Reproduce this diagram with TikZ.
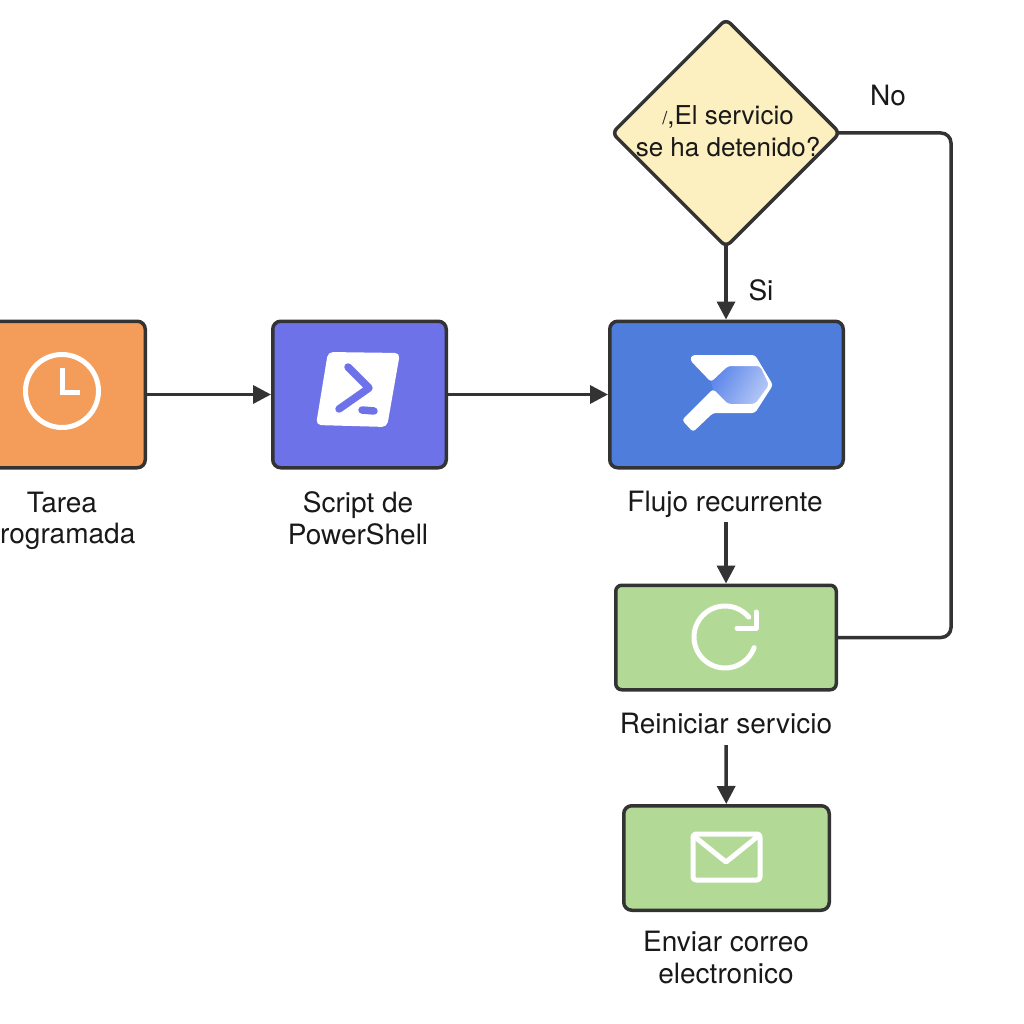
\documentclass[tikz,border=0pt]{standalone}
\usepackage{fontspec}
\setmainfont{TeX Gyre Heros}
\usepackage{tikz}
\usetikzlibrary{arrows.meta}
\usetikzlibrary{shapes.geometric}
\definecolor{linegray}{HTML}{333333}
\definecolor{taskorange}{HTML}{F49C5A}
\definecolor{scriptviolet}{HTML}{6E72E8}
\definecolor{flowblue}{HTML}{4E7DDC}
\definecolor{actiongreen}{HTML}{B2D996}
\definecolor{questionyellow}{HTML}{FCEFC0}
\definecolor{facedark}{HTML}{5F88EA}
\definecolor{facelight}{HTML}{B4C7F6}
\tikzset{
  box/.style={draw=linegray, line width=3.5pt, rounded corners=8pt, inner sep=0pt},
  question/.style={draw=linegray, line width=3.5pt, fill=questionyellow, diamond, aspect=1, rounded corners=6pt, minimum size=229pt, inner sep=0pt},
  lbl/.style={font=\fontsize{28}{32}\selectfont, align=center, text=black!90, inner sep=0pt},
  conn/.style={color=linegray, line width=3.5pt, -{Stealth[length=18pt,width=18pt,inset=0pt]}},
  icon/.style={draw=white, line width=5pt, line cap=round, line join=round}
}
\begin{document}
\begin{tikzpicture}[x=1pt,y=-1pt]
    \useasboundingbox (0,0) rectangle (1024,1024);
    % boxes
    \node[box, fill=taskorange, minimum width=166.5pt, minimum height=146.5pt] (tarea) at (62,394.5) {};
    \node[box, fill=scriptviolet, minimum width=173.5pt, minimum height=146.5pt] (script) at (359.5,394.5) {};
    \node[box, fill=flowblue, minimum width=233.5pt, minimum height=146.5pt] (flujo) at (726.5,394.5) {};
    \node[box, fill=actiongreen, minimum width=220.5pt, minimum height=104.5pt, rounded corners=6pt] (reiniciar) at (726,637.5) {};
    \node[box, fill=actiongreen, minimum width=205.5pt, minimum height=104.5pt] (enviar) at (726.5,858) {};
    \node[question] (pregunta) at (726,133) {};
    % texts
    \node[lbl, font=\fontsize{26}{32}\selectfont] (preguntatxt) at (728,131) {{\fontsize{18}{32}\selectfont /},El servicio\\se ha detenido?};
    \node[lbl] (tareatxt) at (62,502) {Tarea};
    \node[lbl, anchor=west] (tareatxtb) at (0,536) {rogramada};
    \node[lbl] (scripttxt) at (358,518.5) {Script de\\PowerShell};
    \node[lbl] (flujotxt) at (725,504) {Flujo recurrente};
    \node[lbl] (reiniciartxt) at (726,723) {Reiniciar servicio};
    \node[lbl] (enviartxt) at (726,957) {Enviar correo\\electronico};
    \node[lbl] (si) at (761,290) {Si};
    \node[lbl] (no) at (888,96) {No};
    % connectors
    \coordinate (flujofin) at (726,522);
    \coordinate (reiniciarfin) at (726,745);
    \draw[conn] (tarea) -- (script);
    \draw[conn] (script) -- (flujo);
    \draw[conn] ([yshift=4pt]pregunta.south) -- (pregunta.south |- flujo.north);
    \draw[conn] (flujofin) -- (reiniciar);
    \draw[conn] (reiniciarfin) -- (enviar);
    \draw[color=linegray, line width=3.5pt, rounded corners=10pt] ([xshift=-4pt]pregunta.east) -| (951,385) |- (reiniciar.east);
    % clock
    \draw[draw=white, line width=5pt] (62,391) circle (36.5);
    \draw[icon, line cap=butt, line join=miter] (62,368) -- (62,392) -- (80,392);
    % powershell
    \fill[white, rounded corners=5pt] (328,352) -- (400,353) -- (387,427) -- (316,425) -- cycle;
    \draw[icon, draw=scriptviolet, line width=7.5pt] (348,367) -- (369,388) -- (339,409);
    \draw[icon, draw=scriptviolet, line width=7.5pt] (362,410) -- (374,411);
    % power automate
    \shade[left color=facedark, right color=facelight, shading angle=60] (711,382) -- (728,366) -- (760,366) -- (769,385) -- (755,404) -- (728,404) -- (713,389) -- cycle;
    \fill[white, rounded corners=3pt] (692,355) -- (755,355) -- (773,385) -- (755,413) -- (713,413) -- (693,432) -- (682,420) -- (713,389) -- (728,404) -- (755,404) -- (769,385) -- (760,366) -- (728,366) -- (711,382) -- (690,360) -- cycle;
    % restart
    \draw[icon, line cap=round] (725,637) ++(20:31) arc (20:320:31);
    \draw[icon, line cap=round] (756,612) -- (756,628) -- (737,628);
    % mail
    \draw[icon, rounded corners=3pt] (693,834) rectangle (760,880);
    \draw[icon] (695,837) -- (726,862) -- (757,837);
\end{tikzpicture}
\end{document}
